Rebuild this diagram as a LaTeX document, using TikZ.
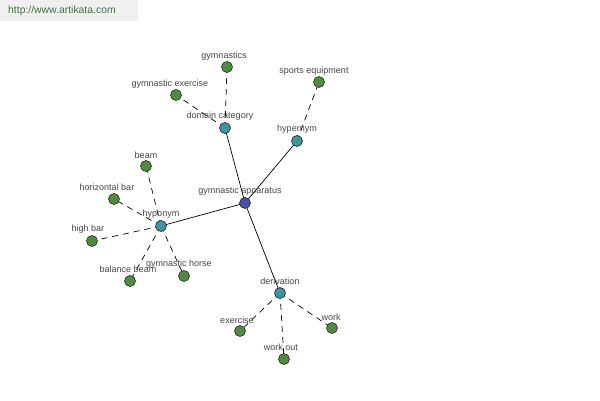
\documentclass[tikz,border=0pt]{standalone}
\usepackage{fontspec}
\setmainfont{Liberation Sans}
\definecolor{leaf}{RGB}{80,140,64}
\definecolor{mid}{RGB}{64,148,160}
\definecolor{hub}{RGB}{72,80,160}
\definecolor{txt}{RGB}{70,70,70}
\definecolor{wm}{RGB}{240,240,240}
\definecolor{wmtxt}{RGB}{70,110,70}
\tikzset{
  dot/.style={circle,draw=black!85,line width=0.6pt,minimum size=11pt,inner sep=0pt},
  leafdot/.style={dot,fill=leaf},
  middot/.style={dot,fill=mid},
  hubdot/.style={dot,fill=hub},
  lbl/.style={font=\fontsize{9}{10}\selectfont,text=txt,inner sep=0pt},
  solidedge/.style={draw=black,line width=0.7pt},
  dashedge/.style={draw=black,line width=0.7pt,dash pattern=on 6pt off 5pt},
}
\begin{document}
\begin{tikzpicture}[x=1pt,y=-1pt]
\useasboundingbox (0,0) rectangle (600,400);
\fill[wm] (0,0) rectangle (138,21);
\node[font=\fontsize{10.4}{11}\selectfont,text=wmtxt,anchor=west,inner sep=0pt] (wmark) at (8,11) {http://www.artikata.com};
% positions
\coordinate (ga) at (245,203);
\coordinate (dc) at (225,128);
\coordinate (hy) at (297,141);
\coordinate (ho) at (161,226);
\coordinate (de) at (280,293);
\coordinate (gy) at (227,67);
\coordinate (gx) at (176,95);
\coordinate (se) at (319,82);
\coordinate (be) at (146,166);
\coordinate (hb) at (114,199);
\coordinate (hi) at (92,241);
\coordinate (bb) at (130,281);
\coordinate (gh) at (184,276);
\coordinate (ex) at (240,331);
\coordinate (wo) at (284,359);
\coordinate (wk) at (332,328);
% edges
\draw[solidedge] (ga) -- (dc);
\draw[solidedge] (ga) -- (hy);
\draw[solidedge] (ga) -- (ho);
\draw[solidedge] (ga) -- (de);
\draw[dashedge] (dc) -- (gy);
\draw[dashedge] (dc) -- (gx);
\draw[dashedge] (hy) -- (se);
\draw[dashedge] (ho) -- (be);
\draw[dashedge] (ho) -- (hb);
\draw[dashedge] (ho) -- (hi);
\draw[dashedge] (ho) -- (bb);
\draw[dashedge] (ho) -- (gh);
\draw[dashedge] (de) -- (ex);
\draw[dashedge] (de) -- (wo);
\draw[dashedge] (de) -- (wk);
% dots
\node[hubdot] (nga) at (ga) {};
\node[middot] (ndc) at (dc) {};
\node[middot] (nhy) at (hy) {};
\node[middot] (nho) at (ho) {};
\node[middot] (nde) at (de) {};
\node[leafdot] (ngy) at (gy) {};
\node[leafdot] (ngx) at (gx) {};
\node[leafdot] (nse) at (se) {};
\node[leafdot] (nbe) at (be) {};
\node[leafdot] (nhb) at (hb) {};
\node[leafdot] (nhi) at (hi) {};
\node[leafdot] (nbb) at (bb) {};
\node[leafdot] (ngh) at (gh) {};
\node[leafdot] (nex) at (ex) {};
\node[leafdot] (nwo) at (wo) {};
\node[leafdot] (nwk) at (wk) {};
% labels
\node[lbl] (lga) at (240,191) {gymnastic apparatus};
\node[lbl] (ldc) at (220,116) {domain category};
\node[lbl] (lhy) at (297,129) {hypernym};
\node[lbl] (lho) at (161,214) {hyponym};
\node[lbl] (lde) at (280,281) {derivation};
\node[lbl] (lgy) at (224,56) {gymnastics};
\node[lbl] (lgx) at (170,84) {gymnastic exercise};
\node[lbl] (lse) at (314,71) {sports equipment};
\node[lbl] (lbe) at (146,155) {beam};
\node[lbl] (lhb) at (107,187) {horizontal bar};
\node[lbl] (lhi) at (88,229) {high bar};
\node[lbl] (lbb) at (128,269) {balance beam};
\node[lbl] (lgh) at (179,264) {gymnastic horse};
\node[lbl] (lex) at (237,320) {exercise};
\node[lbl] (lwo) at (281,347) {work out};
\node[lbl] (lwk) at (331,317) {work};
\end{tikzpicture}
\end{document}
